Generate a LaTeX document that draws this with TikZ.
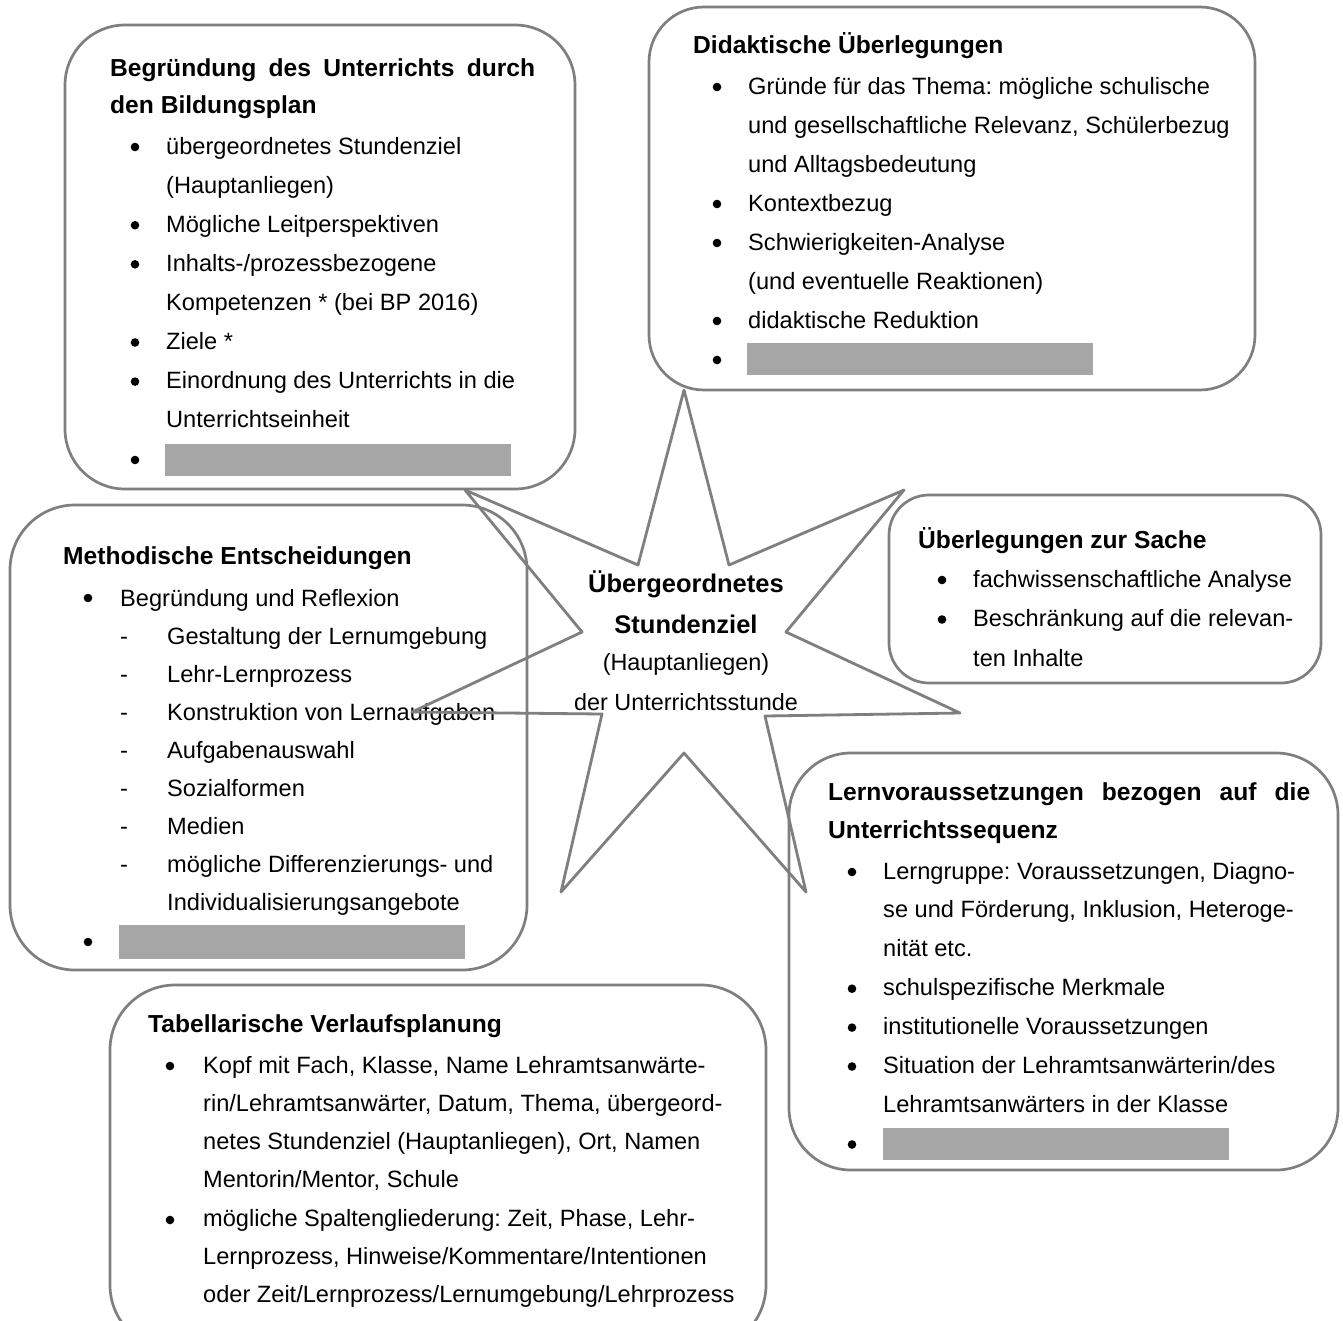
\documentclass[tikz,border=0pt]{standalone}
\usepackage{fontspec}
\setmainfont{Liberation Sans}
\definecolor{lineg}{HTML}{7F7F7F}
\definecolor{fillg}{HTML}{A6A6A6}
\newcommand\bodysize[1]{\fontsize{23.6}{#1}\selectfont}
\tikzset{
  rbox/.style={draw=lineg, line width=2.7pt, rectangle, inner sep=0pt},
  hd/.style={anchor=base west, inner sep=0pt, font=\fontsize{24.6}{37}\selectfont\bfseries},
  bd/.style={anchor=base west, inner sep=0pt},
  dot/.style={fill=black},
  grayblk/.style={fill=fillg},
  startxt/.style={anchor=base, inner sep=0pt},
  starline/.style={draw=lineg, line width=2.8pt, line join=round},
}
\frenchspacing
\begin{document}
\frenchspacing
\begin{tikzpicture}[x=1pt,y=-1pt]
\useasboundingbox (0,0) rectangle (1343,1320);
\clip (0,0) rectangle (1343,1320);
\fill[white] (0,0) rectangle (1343,1320);

% ---------- boxes ----------
\node[rbox, minimum width=510pt, minimum height=464pt, rounded corners=60pt] (b1) at (320,257) {};
\node[rbox, minimum width=606pt, minimum height=383pt, rounded corners=55pt] (b2) at (952,198.5) {};
\node[rbox, minimum width=432pt, minimum height=188pt, rounded corners=40pt] (b3) at (1105,589) {};
\node[rbox, minimum width=549pt, minimum height=417pt, rounded corners=62pt] (b4) at (1063.5,961.5) {};
\node[rbox, minimum width=517pt, minimum height=465pt, rounded corners=65pt] (b5) at (268.5,737.5) {};
\node[rbox, minimum width=656pt, minimum height=365pt, rounded corners=65pt] (b6) at (438,1167.5) {};

% ---------- Box 1 ----------
\node[hd] (h1) at (110,76) {\parbox[t]{500pt}{\makebox[425pt][s]{Begründung des Unterrichts durch}\\den Bildungsplan}};
\node[bd] (t1) at (166,154) {\parbox[t]{600pt}{\bodysize{39.1}übergeordnetes Stundenziel\\
(Hauptanliegen)\\
Mögliche Leitperspektiven\\
Inhalts-/prozessbezogene\\
Kompetenzen * (bei BP 2016)\\
Ziele *\\
Einordnung des Unterrichts in die\\
Unterrichtseinheit}};
\foreach \yy in {147,225.2,264.3,342.5,381.6,460} \fill[dot] (135,\yy) circle (4.3pt);
\fill[grayblk] (165,444) rectangle (511,476);

% ---------- Box 2 ----------
\node[hd] (h2) at (693,53) {Didaktische Überlegungen};
\node[bd] (t2) at (748,94) {\parbox[t]{600pt}{\bodysize{39}Gründe für das Thema: mögliche schulische\\
und gesellschaftliche Relevanz, Schülerbezug\\
und Alltagsbedeutung\\
Kontextbezug\\
Schwierigkeiten-Analyse\\
(und eventuelle Reaktionen)\\
didaktische Reduktion}};
\foreach \yy in {87,204,243,321,360} \fill[dot] (717,\yy) circle (4.3pt);
\fill[grayblk] (747,343) rectangle (1093,375);

% ---------- Box 3 ----------
\node[hd] (h3) at (918,548) {Überlegungen zur Sache};
\node[bd] (t3) at (973,587) {\parbox[t]{600pt}{\bodysize{39.5}fachwissenschaftliche Analyse\\
Beschränkung auf die relevan-\\
ten Inhalte}};
\foreach \yy in {580,619.5} \fill[dot] (942,\yy) circle (4.3pt);

% ---------- Box 4 ----------
\node[hd] (h4) at (828,800) {\parbox[t]{600pt}{\fontsize{24.6}{38}\selectfont\makebox[482pt][s]{Lernvoraussetzungen bezogen auf die}\\Unterrichtssequenz}};
\node[bd] (t4) at (883,879) {\parbox[t]{600pt}{\bodysize{38.9}Lerngruppe: Voraussetzungen, Diagno-\\
se und Förderung, Inklusion, Heteroge-\\
nität etc.\\
schulspezifische Merkmale\\
institutionelle Voraussetzungen\\
Situation der Lehramtsanwärterin/des\\
Lehramtsanwärters in der Klasse}};
\foreach \yy in {872,988.7,1027.6,1066.5,1144.5} \fill[dot] (852,\yy) circle (4.3pt);
\fill[grayblk] (883,1128) rectangle (1229,1160);

% ---------- Box 5 ----------
\node[hd] (h5) at (63,564) {Methodische Entscheidungen};
\node[bd] (t5) at (120,606) {\parbox[t]{600pt}{\bodysize{38}Begründung und Reflexion\\
\makebox[47pt][l]{-}Gestaltung der Lernumgebung\\
\makebox[47pt][l]{-}Lehr-Lernprozess\\
\makebox[47pt][l]{-}Konstruktion von Lernaufgaben\\
\makebox[47pt][l]{-}Aufgabenauswahl\\
\makebox[47pt][l]{-}Sozialformen\\
\makebox[47pt][l]{-}Medien\\
\makebox[47pt][l]{-}mögliche Differenzierungs- und\\
\hspace*{47pt}Individualisierungsangebote}};
\foreach \yy in {598,942} \fill[dot] (88,\yy) circle (4.3pt);
\fill[grayblk] (119,925) rectangle (465,959);

% ---------- Box 6 ----------
\node[hd] (h6) at (148,1032) {Tabellarische Verlaufsplanung};
\node[bd] (t6) at (203,1073) {\parbox[t]{600pt}{\bodysize{38.3}Kopf mit Fach, Klasse, Name Lehramtsanwärte-\\
rin/Lehramtsanwärter, Datum, Thema, übergeord-\\
netes Stundenziel (Hauptanliegen), Ort, Namen\\
Mentorin/Mentor, Schule\\
mögliche Spaltengliederung: Zeit, Phase, Lehr-\\
Lernprozess, Hinweise/Kommentare/Intentionen\\
oder Zeit/Lernprozess/Lernumgebung/Lehrprozess}};
\foreach \yy in {1066,1220} \fill[dot] (170,\yy) circle (4.3pt);

% ---------- Star ----------
\draw[starline] (684,390) -- (729,565) -- (904,490) -- (786,632) -- (960,713) -- (765,716)
  -- (806,892) -- (684,753) -- (561,892) -- (602,714) -- (412,712) -- (582,632)
  -- (465,490) -- (638,565) -- cycle;
\node[startxt, font=\fontsize{25.5}{30}\selectfont\bfseries] (st1) at (686,592) {Übergeordnetes};
\node[startxt, font=\fontsize{25.5}{30}\selectfont\bfseries] (st2) at (686,633) {Stundenziel};
\node[startxt, font=\fontsize{23.4}{30}\selectfont] (st3) at (686,670) {(Hauptanliegen)};
\node[startxt, font=\fontsize{23.4}{30}\selectfont] (st4) at (686,710) {der Unterrichtsstunde};
\end{tikzpicture}
\end{document}
